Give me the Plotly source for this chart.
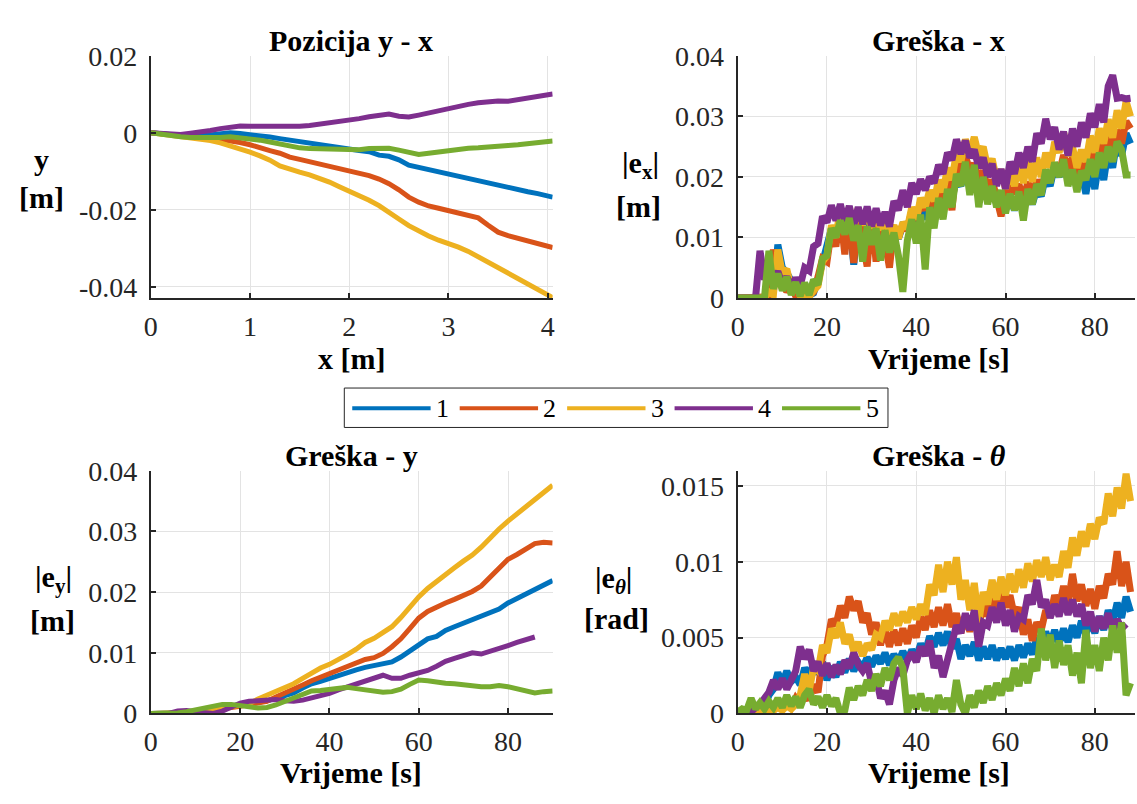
import plotly.graph_objects as go

# ---- data -------------------------------------------------------------
# run labels and MATLAB default colour order
runs = ["1", "2", "3", "4", "5"]
colors = ["#0072BD", "#D95319", "#EDB120", "#7E2F8E", "#77AC30"]

# Pozicija y - x : x [m] vs y [m]
pos_x = [round(0.1 * i, 1) for i in range(41)] + [4.05]
pos_y1 = [0, -0.0003, -0.0006, -0.0008, -0.0009, -0.0008, -0.0005, -0.0001, 0.0000, -0.0002,
          -0.0004, -0.0007, -0.0011, -0.0015, -0.0019, -0.0024, -0.0029, -0.0033, -0.0036, -0.0040,
          -0.0043, -0.0046, -0.0049, -0.0058, -0.0061, -0.0070, -0.0084, -0.0090, -0.0094, -0.0101,
          -0.0106, -0.0111, -0.0117, -0.0123, -0.0129, -0.0136, -0.0143, -0.0148, -0.0153, -0.0158,
          -0.0164, -0.0167]
pos_y2 = [0, -0.0003, -0.0006, -0.0009, -0.0011, -0.0012, -0.0013, -0.0016, -0.0020, -0.0025,
          -0.0031, -0.0040, -0.0046, -0.0053, -0.0063, -0.0069, -0.0075, -0.0080, -0.0086, -0.0094,
          -0.0098, -0.0104, -0.0111, -0.0120, -0.0132, -0.0148, -0.0167, -0.0180, -0.0190, -0.0196,
          -0.0202, -0.0209, -0.0214, -0.0221, -0.0240, -0.0258, -0.0267, -0.0274, -0.0282, -0.0287,
          -0.0294, -0.0298]
pos_y3 = [0, -0.0003, -0.0006, -0.0010, -0.0013, -0.0016, -0.0020, -0.0026, -0.0033, -0.0042,
          -0.0050, -0.0060, -0.0071, -0.0086, -0.0095, -0.0102, -0.0109, -0.0118, -0.0128, -0.0140,
          -0.0151, -0.0162, -0.0175, -0.0189, -0.0205, -0.0224, -0.0241, -0.0255, -0.0268, -0.0279,
          -0.0287, -0.0297, -0.0308, -0.0322, -0.0338, -0.0353, -0.0364, -0.0379, -0.0394, -0.0408,
          -0.0422, -0.0428]
pos_y4 = [0, -0.0002, -0.0004, -0.0004, -0.0001, 0.0001, 0.0006, 0.0011, 0.0016, 0.0018,
          0.0017, 0.0017, 0.0015, 0.0018, 0.0016, 0.0017, 0.0019, 0.0022, 0.0025, 0.0029,
          0.0032, 0.0037, 0.0042, 0.0045, 0.0049, 0.0043, 0.0041, 0.0046, 0.0052, 0.0057,
          0.0062, 0.0069, 0.0074, 0.0078, 0.0082, 0.0083, 0.0082, 0.0086, 0.0090, 0.0094,
          0.0098, 0.0101]
pos_y5 = [0, -0.0004, -0.0007, -0.0010, -0.0012, -0.0013, -0.0013, -0.0012, -0.0010, -0.0012,
          -0.0015, -0.0019, -0.0024, -0.0030, -0.0035, -0.0039, -0.0041, -0.0042, -0.0043, -0.0044,
          -0.0045, -0.0044, -0.0041, -0.0039, -0.0040, -0.0045, -0.0052, -0.0056, -0.0053, -0.0049,
          -0.0046, -0.0043, -0.0040, -0.0039, -0.0036, -0.0034, -0.0033, -0.0031, -0.0028, -0.0025,
          -0.0022, -0.0021]

# Greska - x : |e_x| [m], sampled every second
t_err = list(range(0, 89))
ex1 = [0, 0, 0, 0, 0, 0, 0, 0, 0.0010, 0.0088,
       0.0050, 0.0042, 0.0028, 0.0012, 0.0005, 0.0002, 0.0004, 0.0008, 0.0030, 0.0060,
       0.0080, 0.0115, 0.0100, 0.0130, 0.0110, 0.0132, 0.0055, 0.0128, 0.0105, 0.0125,
       0.0108, 0.0122, 0.0105, 0.0118, 0.0100, 0.0112, 0.0098, 0.0120, 0.0118, 0.0138,
       0.0125, 0.0148, 0.0130, 0.0155, 0.0138, 0.0162, 0.0145, 0.0172, 0.0165, 0.0195,
       0.0185, 0.0218, 0.0185, 0.0210, 0.0170, 0.0195, 0.0165, 0.0182, 0.0155, 0.0172,
       0.0150, 0.0168, 0.0145, 0.0170, 0.0148, 0.0175, 0.0155, 0.0180, 0.0168, 0.0202,
       0.0185, 0.0218, 0.0200, 0.0225, 0.0195, 0.0215, 0.0190, 0.0208, 0.0172, 0.0215,
       0.0180, 0.0230, 0.0195, 0.0245, 0.0215, 0.0262, 0.0235, 0.0272, 0.0255]
ex2 = [0, 0, 0, 0, 0, 0, 0, 0.0002, 0.0080, 0.0030,
       0.0035, 0.0010, 0.0020, 0.0003, 0.0008, 0.0001, 0.0004, 0.0010, 0.0035, 0.0065,
       0.0060, 0.0112, 0.0085, 0.0140, 0.0072, 0.0145, 0.0058, 0.0140, 0.0095, 0.0052,
       0.0138, 0.0060, 0.0135, 0.0085, 0.0050, 0.0118, 0.0100, 0.0122, 0.0112, 0.0145,
       0.0128, 0.0160, 0.0145, 0.0172, 0.0150, 0.0185, 0.0165, 0.0200, 0.0145, 0.0225,
       0.0205, 0.0235, 0.0210, 0.0222, 0.0195, 0.0210, 0.0180, 0.0195, 0.0165, 0.0135,
       0.0170, 0.0190, 0.0172, 0.0188, 0.0160, 0.0192, 0.0170, 0.0195, 0.0178, 0.0208,
       0.0192, 0.0222, 0.0205, 0.0236, 0.0215, 0.0232, 0.0205, 0.0222, 0.0212, 0.0245,
       0.0225, 0.0255, 0.0230, 0.0266, 0.0240, 0.0278, 0.0255, 0.0292, 0.0280]
ex3 = [0, 0, 0, 0, 0, 0, 0, 0.0010, 0.0005, 0.0080,
       0.0040, 0.0048, 0.0015, 0.0025, 0.0004, 0.0008, 0.0002, 0.0012, 0.0020, 0.0060,
       0.0070, 0.0120, 0.0100, 0.0148, 0.0115, 0.0150, 0.0118, 0.0148, 0.0120, 0.0146,
       0.0115, 0.0144, 0.0112, 0.0136, 0.0105, 0.0120, 0.0098, 0.0125, 0.0115, 0.0150,
       0.0130, 0.0165, 0.0150, 0.0178, 0.0160, 0.0195, 0.0175, 0.0215, 0.0195, 0.0240,
       0.0225, 0.0262, 0.0240, 0.0266, 0.0235, 0.0250, 0.0215, 0.0230, 0.0195, 0.0212,
       0.0180, 0.0210, 0.0185, 0.0220, 0.0190, 0.0228, 0.0192, 0.0232, 0.0200, 0.0240,
       0.0215, 0.0258, 0.0240, 0.0274, 0.0235, 0.0250, 0.0215, 0.0245, 0.0225, 0.0268,
       0.0240, 0.0280, 0.0255, 0.0295, 0.0265, 0.0310, 0.0280, 0.0325, 0.0300]
ex4 = [0, 0, 0, 0, 0, 0.0078, 0.0030, 0.0052, 0.0028, 0.0044,
       0.0022, 0.0035, 0.0018, 0.0033, 0.0020, 0.0050, 0.0045, 0.0085, 0.0090, 0.0135,
       0.0125, 0.0153, 0.0128, 0.0155, 0.0125, 0.0152, 0.0120, 0.0150, 0.0122, 0.0151,
       0.0118, 0.0148, 0.0120, 0.0142, 0.0118, 0.0160, 0.0145, 0.0178, 0.0150, 0.0190,
       0.0172, 0.0196, 0.0178, 0.0200, 0.0190, 0.0220, 0.0205, 0.0240, 0.0228, 0.0262,
       0.0238, 0.0260, 0.0232, 0.0245, 0.0215, 0.0232, 0.0200, 0.0222, 0.0185, 0.0213,
       0.0180, 0.0225, 0.0205, 0.0240, 0.0215, 0.0250, 0.0225, 0.0272, 0.0255, 0.0296,
       0.0262, 0.0282, 0.0245, 0.0275, 0.0235, 0.0280, 0.0250, 0.0290, 0.0265, 0.0305,
       0.0282, 0.0320, 0.0290, 0.0350, 0.0368, 0.0330, 0.0331, 0.0329, 0.0330]
ex5 = [0, 0, 0, 0, 0, 0, 0, 0.0078, 0.0015, 0.0040,
       0.0012, 0.0035, 0.0005, 0.0026, 0.0003, 0.0025, 0.0005, 0.0030, 0.0022, 0.0065,
       0.0070, 0.0115, 0.0100, 0.0128, 0.0105, 0.0132, 0.0095, 0.0120, 0.0060, 0.0118,
       0.0088, 0.0115, 0.0062, 0.0112, 0.0075, 0.0108, 0.0070, 0.0010, 0.0095, 0.0130,
       0.0090, 0.0138, 0.0047, 0.0150, 0.0115, 0.0165, 0.0130, 0.0180, 0.0150, 0.0205,
       0.0185, 0.0225, 0.0170, 0.0220, 0.0150, 0.0200, 0.0155, 0.0185, 0.0150, 0.0178,
       0.0140, 0.0172, 0.0145, 0.0176, 0.0128, 0.0180, 0.0155, 0.0188, 0.0170, 0.0212,
       0.0190, 0.0224, 0.0200, 0.0229, 0.0185, 0.0212, 0.0175, 0.0210, 0.0195, 0.0229,
       0.0200, 0.0240, 0.0215, 0.0250, 0.0225, 0.0258, 0.0245, 0.0203, 0.0203]

# Greska - y : |e_y| [m], sampled every 2 s
t_ey = list(range(0, 91, 2))
ey1 = [0, 0, 0, 0, 0, 0.0002, 0.0005, 0.0008, 0.0011, 0.0013, 0.0015, 0.0016, 0.0018, 0.0021,
       0.0025, 0.0029, 0.0034, 0.0042, 0.0049, 0.0053, 0.0058, 0.0063, 0.0069, 0.0072, 0.0076,
       0.0079, 0.0081, 0.0085, 0.0093, 0.0103, 0.0113, 0.0123, 0.0127, 0.0137, 0.0143, 0.0149,
       0.0155, 0.0160, 0.0165, 0.0172, 0.0182, 0.0189, 0.0196, 0.0203, 0.0211, 0.0219]
ey2 = [0, 0, 0, 0, 0, 0.0001, 0.0003, 0.0006, 0.0008, 0.0010, 0.0012, 0.0014, 0.0016, 0.0020,
       0.0027, 0.0033, 0.0040, 0.0047, 0.0054, 0.0060, 0.0066, 0.0071, 0.0077, 0.0083, 0.0089,
       0.0092, 0.0099, 0.0110, 0.0123, 0.0140, 0.0157, 0.0168, 0.0176, 0.0182, 0.0188, 0.0194,
       0.0201, 0.0210, 0.0224, 0.0240, 0.0254, 0.0262, 0.0270, 0.0280, 0.0282, 0.0281]
ey3 = [0, 0, 0, 0, 0, 0.0002, 0.0004, 0.0006, 0.0009, 0.0011, 0.0013, 0.0016, 0.0024, 0.0030,
       0.0036, 0.0041, 0.0049, 0.0058, 0.0067, 0.0075, 0.0081, 0.0088, 0.0097, 0.0106, 0.0117,
       0.0124, 0.0133, 0.0143, 0.0158, 0.0176, 0.0192, 0.0206, 0.0218, 0.0230, 0.0240, 0.0251,
       0.0261, 0.0274, 0.0290, 0.0304, 0.0317, 0.0329, 0.0341, 0.0353, 0.0364, 0.0376]
ey4 = [0, 0, 0, 0.0004, 0.0005, 0.0003, 0.0002, 0.0000, 0.0004, 0.0011, 0.0017, 0.0020, 0.0021,
       0.0022, 0.0023, 0.0021, 0.0020, 0.0022, 0.0025, 0.0029, 0.0033, 0.0039, 0.0044, 0.0050,
       0.0054, 0.0059, 0.0063, 0.0058, 0.0058, 0.0063, 0.0066, 0.0071, 0.0078, 0.0086, 0.0091,
       0.0096, 0.0100, 0.0098, 0.0102, 0.0107, 0.0112, 0.0117, 0.0121, 0.0126, None, None]
ey5 = [0, 0, 0, 0.0001, 0.0003, 0.0006, 0.0010, 0.0013, 0.0015, 0.0015, 0.0014, 0.0011, 0.0009,
       0.0010, 0.0014, 0.0020, 0.0027, 0.0033, 0.0037, 0.0038, 0.0039, 0.0042, 0.0043, 0.0041,
       0.0039, 0.0036, 0.0035, 0.0036, 0.0040, 0.0048, 0.0055, 0.0054, 0.0051, 0.0050, 0.0049,
       0.0047, 0.0046, 0.0044, 0.0044, 0.0046, 0.0044, 0.0041, 0.0037, 0.0034, 0.0036, 0.0037]

# Greska - theta : |e_theta| [rad], sampled every second
eth1 = [0.0001, 0.0002, 0.0001, 0.0003, 0.0002, 0.0005, 0.0004, 0.0012, 0.0016, 0.0027,
        0.0020, 0.0028, 0.0021, 0.0024, 0.0019, 0.0030, 0.0025, 0.0033, 0.0026, 0.0034,
        0.0022, 0.0031, 0.0024, 0.0034, 0.0027, 0.0036, 0.0028, 0.0034, 0.0030, 0.0037,
        0.0031, 0.0038, 0.0033, 0.0040, 0.0032, 0.0039, 0.0034, 0.0041, 0.0035, 0.0042,
        0.0037, 0.0046, 0.0040, 0.0051, 0.0044, 0.0053, 0.0045, 0.0054, 0.0043, 0.0049,
        0.0036, 0.0045, 0.0038, 0.0047, 0.0035, 0.0044, 0.0036, 0.0045, 0.0035, 0.0043,
        0.0036, 0.0044, 0.0035, 0.0045, 0.0037, 0.0046, 0.0039, 0.0050, 0.0043, 0.0054,
        0.0045, 0.0055, 0.0046, 0.0056, 0.0047, 0.0058, 0.0050, 0.0061, 0.0052, 0.0062,
        0.0053, 0.0064, 0.0055, 0.0068, 0.0060, 0.0073, 0.0063, 0.0077, 0.0067]
eth2 = [0.0000, 0.0001, 0.0000, 0.0002, 0.0001, 0.0003, 0.0001, 0.0004, 0.0002, 0.0005,
        0.0003, 0.0008, 0.0004, 0.0010, 0.0006, 0.0013, 0.0009, 0.0019, 0.0014, 0.0038,
        0.0045, 0.0062, 0.0058, 0.0071, 0.0063, 0.0077, 0.0068, 0.0074, 0.0060, 0.0066,
        0.0052, 0.0060, 0.0045, 0.0056, 0.0044, 0.0055, 0.0045, 0.0056, 0.0046, 0.0058,
        0.0050, 0.0064, 0.0055, 0.0068, 0.0057, 0.0070, 0.0058, 0.0072, 0.0057, 0.0066,
        0.0053, 0.0064, 0.0054, 0.0066, 0.0058, 0.0072, 0.0064, 0.0078, 0.0069, 0.0080,
        0.0070, 0.0078, 0.0064, 0.0070, 0.0052, 0.0062, 0.0048, 0.0060, 0.0055, 0.0068,
        0.0064, 0.0078, 0.0070, 0.0084, 0.0072, 0.0092, 0.0074, 0.0085, 0.0071, 0.0082,
        0.0069, 0.0084, 0.0076, 0.0092, 0.0085, 0.0107, 0.0084, 0.0100, 0.0080]
eth3 = [0.0000, 0.0001, 0.0000, 0.0002, 0.0001, 0.0002, 0.0001, 0.0003, 0.0002, 0.0004,
        0.0002, 0.0005, 0.0003, 0.0006, 0.0012, 0.0026, 0.0015, 0.0030, 0.0028, 0.0045,
        0.0040, 0.0056, 0.0050, 0.0060, 0.0046, 0.0052, 0.0041, 0.0047, 0.0038, 0.0046,
        0.0042, 0.0052, 0.0050, 0.0061, 0.0055, 0.0066, 0.0058, 0.0067, 0.0060, 0.0070,
        0.0062, 0.0072, 0.0065, 0.0085, 0.0078, 0.0098, 0.0080, 0.0100, 0.0085, 0.0103,
        0.0075, 0.0088, 0.0068, 0.0086, 0.0060, 0.0080, 0.0072, 0.0088, 0.0075, 0.0090,
        0.0078, 0.0092, 0.0080, 0.0095, 0.0083, 0.0099, 0.0087, 0.0101, 0.0090, 0.0103,
        0.0088, 0.0098, 0.0090, 0.0107, 0.0096, 0.0116, 0.0104, 0.0120, 0.0110, 0.0125,
        0.0115, 0.0129, 0.0125, 0.0145, 0.0130, 0.0149, 0.0135, 0.0158, 0.0140]
eth4 = [0.0001, 0.0000, 0.0002, 0.0001, 0.0004, 0.0006, 0.0010, 0.0014, 0.0022, 0.0016,
        0.0023, 0.0016, 0.0022, 0.0028, 0.0044, 0.0036, 0.0042, 0.0028, 0.0034, 0.0025,
        0.0033, 0.0024, 0.0032, 0.0026, 0.0035, 0.0030, 0.0040, 0.0032, 0.0028, 0.0033,
        0.0020, 0.0024, 0.0010, 0.0015, 0.0006, 0.0022, 0.0030, 0.0025, 0.0035, 0.0040,
        0.0034, 0.0044, 0.0038, 0.0048, 0.0030, 0.0038, 0.0024, 0.0036, 0.0050, 0.0058,
        0.0053, 0.0066, 0.0055, 0.0068, 0.0044, 0.0060, 0.0058, 0.0070, 0.0060, 0.0073,
        0.0058, 0.0068, 0.0054, 0.0064, 0.0062, 0.0078, 0.0072, 0.0088, 0.0070, 0.0075,
        0.0063, 0.0072, 0.0064, 0.0076, 0.0065, 0.0075, 0.0064, 0.0072, 0.0058, 0.0067,
        0.0054, 0.0064, 0.0056, 0.0066, 0.0054, 0.0062, 0.0056, 0.0059, None]
eth5 = [0.0001, 0.0003, 0.0002, 0.0010, 0.0003, 0.0007, 0.0003, 0.0008, 0.0004, 0.0010,
        0.0004, 0.0012, 0.0005, 0.0011, 0.0004, 0.0012, 0.0016, 0.0006, 0.0011, 0.0004,
        0.0012, 0.0005, 0.0010, 0.0000, 0.0002, 0.0017, 0.0009, 0.0018, 0.0012, 0.0022,
        0.0015, 0.0026, 0.0018, 0.0030, 0.0022, 0.0033, 0.0037, 0.0030, 0.0000, 0.0012,
        0.0003, 0.0013, 0.0002, 0.0010, 0.0000, 0.0012, 0.0003, 0.0010, 0.0001, 0.0022,
        0.0006, 0.0000, 0.0012, 0.0004, 0.0015, 0.0007, 0.0018, 0.0009, 0.0020, 0.0012,
        0.0023, 0.0015, 0.0030, 0.0018, 0.0033, 0.0020, 0.0036, 0.0028, 0.0056, 0.0035,
        0.0052, 0.0030, 0.0048, 0.0032, 0.0045, 0.0025, 0.0040, 0.0020, 0.0055, 0.0030,
        0.0045, 0.0028, 0.0050, 0.0035, 0.0058, 0.0040, 0.0060, 0.0012, 0.0020]

# ---- layout helpers -----------------------------------------------------
W, H = 1137, 804
SERIF = "Liberation Serif"
AX = "#262626"


def px(x):
    return x / W


def py(y):
    return 1 - y / H


left_col = [px(145), px(550)]
right_col = [px(736.5), 1.0]
top_row = [py(294.3), py(42.5)]
bot_row = [py(726.5), py(474)]


def x_axis(domain, rng, tickvals, anchor):
    return dict(domain=domain, range=rng, tickvals=tickvals, anchor=anchor,
                showline=True, linecolor=AX, linewidth=2, mirror=False,
                ticks="inside", ticklen=5, tickwidth=1.5, tickcolor=AX,
                showgrid=True, gridcolor="#e3e3e3", gridwidth=1, zeroline=False,
                tickfont=dict(family=SERIF, size=28, color=AX), ticklabelstandoff=2)


def y_axis(domain, rng, tickvals, ticktext, anchor):
    return dict(domain=domain, range=rng, tickvals=tickvals, ticktext=ticktext, anchor=anchor,
                showline=True, linecolor=AX, linewidth=2, mirror=False,
                ticks="inside", ticklen=5, tickwidth=1.5, tickcolor=AX,
                showgrid=True, gridcolor="#e3e3e3", gridwidth=1, zeroline=False,
                tickfont=dict(family=SERIF, size=28, color=AX), ticklabelstandoff=6)


fig = go.Figure()

# (x axis, y axis, x data, series, noisy?) - the noisy error signals get a wider pen
panels = [
    ("x", "y", pos_x, [pos_y1, pos_y2, pos_y3, pos_y4, pos_y5], False),
    ("x2", "y2", t_err, [ex1, ex2, ex3, ex4, ex5], True),
    ("x3", "y3", t_ey, [ey1, ey2, ey3, ey4, ey5], False),
    ("x4", "y4", t_err, [eth1, eth2, eth3, eth4, eth5], True),
]
for xa, ya, xs, series, noisy in panels:
    for name, col, ys in zip(runs, colors, series):
        fig.add_trace(go.Scatter(x=xs, y=ys, mode="lines", name=name, showlegend=False,
                                 xaxis=xa, yaxis=ya,
                                 line=dict(color=col, width=7 if noisy else 5)))

fig.update_layout(
    width=W, height=H, margin=dict(l=0, r=0, t=0, b=0),
    paper_bgcolor="white", plot_bgcolor="white",
    xaxis=x_axis(left_col, [0, 4.05], [0, 1, 2, 3, 4], "y"),
    yaxis=y_axis(top_row, [-0.0429, 0.02], [-0.04, -0.02, 0, 0.02],
                 ["-0.04", "-0.02", "0", "0.02"], "x"),
    xaxis2=x_axis(right_col, [0, 89], [0, 20, 40, 60, 80], "y2"),
    yaxis2=y_axis(top_row, [0, 0.04], [0, 0.01, 0.02, 0.03, 0.04],
                  ["0", "0.01", "0.02", "0.03", "0.04"], "x2"),
    xaxis3=x_axis(left_col, [0, 90], [0, 20, 40, 60, 80], "y3"),
    yaxis3=y_axis(bot_row, [0, 0.04], [0, 0.01, 0.02, 0.03, 0.04],
                  ["0", "0.01", "0.02", "0.03", "0.04"], "x3"),
    xaxis4=x_axis(right_col, [0, 89], [0, 20, 40, 60, 80], "y4"),
    yaxis4=y_axis(bot_row, [0, 0.016], [0, 0.005, 0.01, 0.015],
                  ["0", "0.005", "0.01", "0.015"], "x4"),
)

# titles and axis labels (bold serif, like the MATLAB figure)
labels = [
    ("<b>Pozicija y - x</b>", 347, 27),
    ("<b>Greška - x</b>", 939, 27),
    ("<b>Greška - y</b>", 347, 458),
    ("<b>Greška - <i>θ</i></b>", 939, 458),
    ("<b>x [m]</b>", 347, 357),
    ("<b>Vrijeme [s]</b>", 939, 357),
    ("<b>Vrijeme [s]</b>", 347, 788),
    ("<b>Vrijeme [s]</b>", 939, 788),
    ("<b>y</b>", 35, 150),
    ("<b>[m]</b>", 35, 190),
    ("<b>|e<sub>x</sub>|</b>", 639, 156),
    ("<b>[m]</b>", 637, 199),
    ("<b>|e<sub>y</sub>|</b>", 47, 587),
    ("<b>[m]</b>", 46, 630),
    ("<b>|e<sub><i>θ</i></sub>|</b>", 611, 588),
    ("<b>[rad]</b>", 614, 628),
]
annotations = []
for text, x, y in labels:
    annotations.append(dict(text=text, x=px(x), y=py(y), xref="paper", yref="paper",
                            showarrow=False, xanchor="center", yanchor="middle",
                            font=dict(family=SERIF, size=30, color="black")))

# shared legend box between the rows
shapes = [dict(type="rect", xref="paper", yref="paper", x0=px(340), x1=px(888),
               y0=py(429), y1=py(388), line=dict(color=AX, width=1), fillcolor="white")]
for i, (name, col) in enumerate(zip(runs, colors)):
    x0 = 348 + i * 108.3
    shapes.append(dict(type="line", xref="paper", yref="paper", x0=px(x0), x1=px(x0 + 79),
                       y0=py(409), y1=py(409), line=dict(color=col, width=4)))
    annotations.append(dict(text=name, x=px(x0 + 91), y=py(409), xref="paper", yref="paper",
                            showarrow=False, xanchor="center", yanchor="middle",
                            font=dict(family=SERIF, size=26, color="black")))

fig.update_layout(annotations=annotations, shapes=shapes)

# the page body has a default 8px margin; drop it so the figure fills the window
fig.write_html("out.html", config={"displayModeBar": False},
               post_script="document.body.style.margin='0px';document.body.style.overflow='hidden';")
